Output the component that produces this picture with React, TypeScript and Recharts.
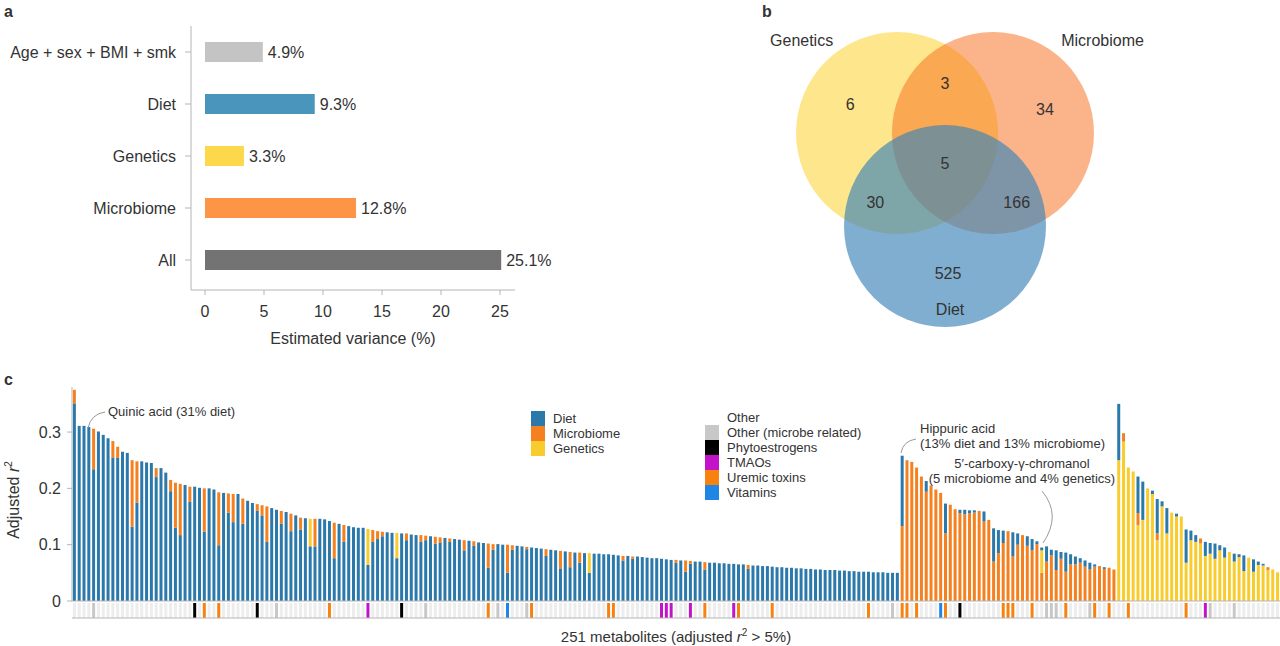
import { Bar, BarChart, Cell, LabelList, Scatter, ScatterChart, XAxis, YAxis, ZAxis } from 'recharts'

const font = '"Liberation Sans", Arial, Helvetica, sans-serif'
const ink = '#333333'
const rule = '#b5b5b5'

// ---- a: variance explained
const factors = ['Age + sex + BMI + smk', 'Diet', 'Genetics', 'Microbiome', 'All']
const variance = [4.9, 9.3, 3.3, 12.8, 25.1]
const factorColors = ['#c4c4c4', '#4a95bc', '#fcd84a', '#fd9446', '#737373']
const varianceTicks = [0, 5, 10, 15, 20, 25]

// ---- b: overlap of associated metabolites
const vennSets = ['Genetics', 'Microbiome', 'Diet']
const vennRegions = ['G', 'GM', 'M', 'GMD', 'GD', 'MD', 'D']
const vennCounts = [6, 3, 34, 5, 30, 166, 525]

// ---- c: adjusted r2 per metabolite, grouped by main contributor (rank 1..251)
const dietLedTotal = [
  0.375, 0.311, 0.311, 0.309, 0.306, 0.301, 0.295, 0.289, 0.284, 0.274,
  0.265, 0.263, 0.25, 0.248, 0.248, 0.246, 0.245, 0.236, 0.236, 0.228,
  0.215, 0.21, 0.208, 0.206, 0.203, 0.203, 0.201, 0.2, 0.2, 0.198,
  0.193, 0.192, 0.191, 0.19, 0.19, 0.182, 0.178, 0.174, 0.172, 0.17,
  0.168, 0.165, 0.162, 0.16, 0.158, 0.155, 0.152, 0.148, 0.147, 0.146,
  0.146, 0.146, 0.145, 0.142, 0.139, 0.137, 0.135, 0.133, 0.131, 0.13,
  0.13, 0.128, 0.126, 0.124, 0.123, 0.122, 0.121, 0.121, 0.12, 0.12,
  0.118, 0.117, 0.117, 0.116, 0.115, 0.114, 0.113, 0.112, 0.111, 0.11,
  0.109, 0.108, 0.107, 0.106, 0.104, 0.103, 0.102, 0.101, 0.101, 0.1,
  0.1, 0.099, 0.098, 0.097, 0.096, 0.095, 0.094, 0.093, 0.092, 0.091,
  0.09, 0.089, 0.088, 0.087, 0.086, 0.086, 0.085, 0.085, 0.084, 0.084,
  0.083, 0.083, 0.082, 0.081, 0.08, 0.08, 0.079, 0.079, 0.078, 0.077,
  0.076, 0.076, 0.075, 0.074, 0.073, 0.073, 0.072, 0.072, 0.071, 0.07,
  0.07, 0.069, 0.068, 0.068, 0.067, 0.067, 0.066, 0.066, 0.065, 0.065,
  0.064, 0.063, 0.063, 0.062, 0.062, 0.061, 0.06, 0.06, 0.059, 0.059,
  0.058, 0.058, 0.057, 0.057, 0.056, 0.056, 0.055, 0.055, 0.055, 0.054,
  0.054, 0.053, 0.053, 0.052, 0.052, 0.052, 0.051, 0.051, 0.051, 0.05,
  0.05, 0.05,
]
const microbeLedTotal = [
  0.258, 0.25, 0.247, 0.237, 0.221, 0.213, 0.205, 0.198, 0.192, 0.173,
  0.171, 0.163, 0.162, 0.162, 0.161, 0.161, 0.16, 0.159, 0.144, 0.129,
  0.126, 0.125, 0.124, 0.122, 0.12, 0.117, 0.115, 0.11, 0.106, 0.095,
  0.097, 0.091, 0.09, 0.087, 0.086, 0.083, 0.079, 0.076, 0.072, 0.068,
  0.065, 0.062, 0.06, 0.059, 0.056,
]
const geneticsLedTotal = [
  0.35, 0.298, 0.237, 0.23, 0.221, 0.212, 0.2, 0.196, 0.181, 0.177,
  0.165, 0.157, 0.155, 0.15, 0.127, 0.125, 0.117, 0.111, 0.105, 0.103,
  0.102, 0.099, 0.095, 0.087, 0.084, 0.083, 0.081, 0.077, 0.074, 0.07,
  0.066, 0.06, 0.056, 0.051,
]

// secondary contributions as [rank, adjusted r2]
const dietLedMicrobiome = [
  [1, 0.024], [5, 0.072], [9, 0.029], [10, 0.02], [13, 0.118], [14, 0.073], [18, 0.016],
  [21, 0.02], [22, 0.08], [23, 0.091], [25, 0.027], [28, 0.077], [31, 0.094], [33, 0.034],
  [34, 0.05], [36, 0.045], [39, 0.012], [40, 0.018], [41, 0.063], [44, 0.023], [46, 0.031],
  [48, 0.021], [51, 0.049], [55, 0.063], [57, 0.03], [63, 0.021], [64, 0.014], [65, 0.008],
  [70, 0.012], [73, 0.012], [74, 0.008], [76, 0.012], [77, 0.01], [79, 0.006], [82, 0.018],
  [84, 0.008], [87, 0.043], [88, 0.01], [91, 0.05], [92, 0.008], [95, 0.004], [99, 0.012],
  [102, 0.031], [104, 0.027], [106, 0.018], [115, 0.008], [117, 0.004], [126, 0.005],
  [128, 0.02], [129, 0.005], [132, 0.013], [141, 0.007],
]
const dietLedGenetics = [[50, 0.049], [62, 0.064], [68, 0.045], [108, 0.035]]
const microbeLedDiet = [
  [173, 0.125], [178, 0.019], [182, 0.053], [185, 0.006], [186, 0.008], [187, 0.005],
  [188, 0.004], [190, 0.018], [192, 0.059], [193, 0.041], [194, 0.022], [196, 0.043],
  [197, 0.02], [199, 0.017], [200, 0.02], [201, 0.005], [202, 0.005], [203, 0.027],
  [204, 0.01], [205, 0.035], [206, 0.012], [207, 0.034], [208, 0.018], [209, 0.014],
  [210, 0.008], [211, 0.011], [212, 0.012], [213, 0.004], [215, 0.003],
]
const microbeLedGenetics = [[202, 0.04]]
const geneticsLedDiet = [
  [218, 0.1], [222, 0.065], [223, 0.068], [225, 0.006], [226, 0.061], [227, 0.009],
  [228, 0.045], [230, 0.005], [232, 0.059], [233, 0.017], [234, 0.012], [236, 0.025],
  [237, 0.019], [238, 0.027], [239, 0.009], [240, 0.018], [242, 0.014], [243, 0.005],
  [244, 0.028], [246, 0.022], [247, 0.006], [248, 0.003],
]
const geneticsLedMicrobiome = [[219, 0.015], [222, 0.021], [226, 0.012], [235, 0.009], [249, 0.005]]
const rTicks = [0, 0.1, 0.2, 0.3]

// metabolite classes (strip under panel c), by rank
const microbeRelatedOther = [5, 43, 74, 89, 95, 171, 203, 204, 205, 212, 237, 242]
const phytoestrogens = [26, 39, 69, 185]
const tmaos = [62, 123, 124, 125, 129, 138, 236]
const uremicToxins = [28, 31, 54, 87, 96, 112, 113, 132, 139, 146, 166, 173, 174, 176, 182, 194, 195, 196, 200, 207, 213, 216, 220, 232]
const vitamins = [91, 181]

// ---- colours and layout
const C = { diet: '#2b78ab', microbiome: '#f5801f', genetics: '#f8cc2d' }
const sourceLegend = [
  { name: 'Diet', color: C.diet },
  { name: 'Microbiome', color: C.microbiome },
  { name: 'Genetics', color: C.genetics },
]
const classes = [
  { name: 'Other', color: '#ededed', box: 'transparent', ranks: [] as number[] },
  { name: 'Other (microbe related)', color: '#c8c8c8', box: '#c8c8c8', ranks: microbeRelatedOther },
  { name: 'Phytoestrogens', color: '#000000', box: '#000000', ranks: phytoestrogens },
  { name: 'TMAOs', color: '#c313c9', box: '#c313c9', ranks: tmaos },
  { name: 'Uremic toxins', color: '#f7820f', box: '#f7820f', ranks: uremicToxins },
  { name: 'Vitamins', color: '#1f86e6', box: '#1f86e6', ranks: vitamins },
]
const vennStyle: Record<string, { fill: string; opacity: number }> = {
  Genetics: { fill: '#fbcd19', opacity: 0.5 },
  Microbiome: { fill: '#f76915', opacity: 0.5 },
  Diet: { fill: '#3b83b7', opacity: 0.65 },
}
// circle centres (radius = 1) and label spots for the venn
const vennCentre: Record<string, [number, number]> = {
  Genetics: [-0.475, 0.46],
  Microbiome: [0.475, 0.46],
  Diet: [0, -0.46],
}
const vennNameSpot: Record<string, [number, number]> = {
  Genetics: [-1.42, 1.38],
  Microbiome: [1.56, 1.38],
  Diet: [0.05, -1.29],
}
const vennCountSpot: Record<string, [number, number]> = {
  G: [-0.94, 0.74], GM: [0, 0.95], M: [0.99, 0.69], GMD: [0, 0.16],
  GD: [-0.69, -0.23], MD: [0.71, -0.23], D: [0.03, -0.93],
}

const factorRows = factors.map((name, i) => ({ name, value: variance[i], color: factorColors[i] }))

const vennCircles = vennSets.map((name) => ({ name, x: vennCentre[name][0], y: vennCentre[name][1], z: 1 }))
const vennLabels = [
  ...vennSets.map((name) => ({ label: name, x: vennNameSpot[name][0], y: vennNameSpot[name][1], z: 1 })),
  ...vennRegions.map((r, i) => ({ label: String(vennCounts[i]), x: vennCountSpot[r][0], y: vennCountSpot[r][1], z: 1 })),
]

const lookup = (pairs: number[][]) => {
  const m = new Map(pairs.map(([k, v]) => [k, v]))
  return (rank: number) => m.get(rank) ?? 0
}

type Row = { rank: number; bottom: number; middle: number; top: number; colors: string[] }
const rows: Row[] = []
{
  const m = lookup(dietLedMicrobiome)
  const g = lookup(dietLedGenetics)
  dietLedTotal.forEach((t) => {
    const rank = rows.length + 1
    rows.push({ rank, bottom: t - m(rank) - g(rank), middle: m(rank), top: g(rank), colors: [C.diet, C.microbiome, C.genetics] })
  })
}
{
  const d = lookup(microbeLedDiet)
  const g = lookup(microbeLedGenetics)
  microbeLedTotal.forEach((t) => {
    const rank = rows.length + 1
    rows.push({ rank, bottom: t - d(rank) - g(rank), middle: g(rank), top: d(rank), colors: [C.microbiome, C.genetics, C.diet] })
  })
}
{
  const d = lookup(geneticsLedDiet)
  const m = lookup(geneticsLedMicrobiome)
  geneticsLedTotal.forEach((t) => {
    const rank = rows.length + 1
    rows.push({ rank, bottom: t - d(rank) - m(rank), middle: m(rank), top: d(rank), colors: [C.genetics, C.microbiome, C.diet] })
  })
}

const stripRows = rows.map((r) => {
  const cls = classes.find((c) => c.ranks.includes(r.rank)) ?? classes[0]
  return { rank: r.rank, v: 1, color: cls.color }
})

const tickA = { fontSize: 16, fill: ink, fontFamily: font }
const tickC = { fontSize: 16, fill: ink, fontFamily: font }

function VennCircle(p: any) {
  const s = vennStyle[p.payload.name]
  const r = p.width ? p.width / 2 : 101
  return <circle cx={p.cx} cy={p.cy} r={r} fill={s.fill} fillOpacity={s.opacity} />
}

function VennText(p: any) {
  return (
    <text x={p.cx} y={p.cy} textAnchor="middle" dominantBaseline="central" fontSize={16} fill={ink} fontFamily={font}>
      {p.payload.label}
    </text>
  )
}

const panelLetter = (l: string, x: number, y: number) => (
  <div style={{ position: 'absolute', left: x, top: y, fontWeight: 'bold', fontSize: 16, lineHeight: '16px' }}>{l}</div>
)

export default function App() {
  return (
    <div style={{ position: 'absolute', left: 0, top: 0, width: 1280, height: 646, background: '#fff', fontFamily: font, color: ink, overflow: 'hidden' }}>
      {panelLetter('a', 4, 4)}
      {panelLetter('b', 762, 4)}
      {panelLetter('c', 4, 372)}

      {/* a */}
      <div style={{ position: 'absolute', left: 0, top: 0 }}>
        <BarChart width={570} height={350} layout="vertical" data={factorRows} margin={{ top: 26, right: 55, left: 0, bottom: 0 }}>
          <YAxis
            type="category"
            dataKey="name"
            width={191}
            tickSize={6}
            tickMargin={9}
            padding={{ top: 0, bottom: 4 }}
            tick={tickA}
            interval={0}
            axisLine={{ stroke: rule }}
            tickLine={{ stroke: rule }}
          />
          <XAxis
            type="number"
            domain={[0, 26.27]}
            ticks={varianceTicks}
            interval={0}
            allowDataOverflow
            padding={{ left: 14, right: 0 }}
            height={60}
            tickSize={5}
            tickMargin={11}
            tick={tickA}
            axisLine={{ stroke: rule }}
            tickLine={{ stroke: rule }}
            label={{ value: 'Estimated variance (%)', position: 'insideBottom', offset: 6, fontSize: 16, fill: ink }}
          />
          <Bar dataKey="value" barSize={20} isAnimationActive={false}>
            {factorRows.map((r) => (
              <Cell key={r.name} fill={r.color} />
            ))}
            <LabelList dataKey="value" position="right" offset={5} formatter={(v: any) => `${v}%`} fill={ink} fontSize={16} />
          </Bar>
        </BarChart>
      </div>

      {/* b */}
      <div style={{ position: 'absolute', left: 760, top: 0 }}>
        <ScatterChart width={430} height={350} margin={{ top: 0, right: 0, bottom: 0, left: 0 }}>
          <XAxis type="number" dataKey="x" domain={[-1.832, 2.426]} allowDataOverflow hide />
          <YAxis type="number" dataKey="y" domain={[-1.688, 1.777]} allowDataOverflow hide />
          <ZAxis type="number" dataKey="z" range={[32047, 32047]} />
          <Scatter data={vennCircles} shape={VennCircle} isAnimationActive={false} />
          <Scatter data={vennLabels} shape={VennText} isAnimationActive={false} />
        </ScatterChart>
      </div>

      {/* c */}
      <div style={{ position: 'absolute', left: 0, top: 380 }}>
        <BarChart width={1280} height={240} data={rows} barCategoryGap="18%" margin={{ top: 7, right: 0, left: 0, bottom: 18 }}>
          <XAxis dataKey="rank" tick={false} tickLine={false} height={1} axisLine={{ stroke: rule }} />
          <YAxis
            type="number"
            domain={[0, 0.38]}
            ticks={rTicks}
            interval={0}
            allowDataOverflow
            width={72}
            tickSize={5}
            tickMargin={6}
            tick={tickC}
            axisLine={{ stroke: rule }}
            tickLine={{ stroke: rule }}
          />
          <Bar dataKey="bottom" stackId="r" isAnimationActive={false}>
            {rows.map((r) => (
              <Cell key={r.rank} fill={r.colors[0]} />
            ))}
          </Bar>
          <Bar dataKey="middle" stackId="r" isAnimationActive={false}>
            {rows.map((r) => (
              <Cell key={r.rank} fill={r.colors[1]} />
            ))}
          </Bar>
          <Bar dataKey="top" stackId="r" isAnimationActive={false}>
            {rows.map((r) => (
              <Cell key={r.rank} fill={r.colors[2]} />
            ))}
          </Bar>
        </BarChart>
      </div>
      <div style={{ position: 'absolute', left: 0, top: 602 }}>
        <BarChart width={1280} height={17} data={stripRows} barCategoryGap="18%" margin={{ top: 1, right: 0, left: 72, bottom: 0 }}>
          <XAxis dataKey="rank" tick={false} tickLine={false} height={1} axisLine={{ stroke: rule }} />
          <YAxis type="number" domain={[0, 1]} hide />
          <Bar dataKey="v" isAnimationActive={false}>
            {stripRows.map((r) => (
              <Cell key={r.rank} fill={r.color} />
            ))}
          </Bar>
        </BarChart>
      </div>

      {/* axis titles of c */}
      <div style={{ position: 'absolute', left: 13, top: 500, transform: 'translate(-50%, -50%) rotate(-90deg)', fontSize: 16, whiteSpace: 'nowrap' }}>
        Adjusted <i>r</i>
        <sup style={{ fontSize: 10 }}>2</sup>
      </div>
      <div style={{ position: 'absolute', left: 676, top: 636, transform: 'translate(-50%, -50%)', fontSize: 15, whiteSpace: 'nowrap' }}>
        251 metabolites (adjusted <i>r</i>
        <sup style={{ fontSize: 10 }}>2</sup> &gt; 5%)
      </div>

      {/* legends of c */}
      <div style={{ position: 'absolute', left: 531, top: 411, fontSize: 13 }}>
        {sourceLegend.map((s) => (
          <div key={s.name} style={{ display: 'flex', alignItems: 'center', height: 15 }}>
            <div style={{ width: 14, height: 15, background: s.color }} />
            <span style={{ marginLeft: 8 }}>{s.name}</span>
          </div>
        ))}
      </div>
      <div style={{ position: 'absolute', left: 705, top: 410, fontSize: 13 }}>
        {classes.map((s) => (
          <div key={s.name} style={{ display: 'flex', alignItems: 'center', height: 15 }}>
            <div style={{ width: 14, height: 15, background: s.box }} />
            <span style={{ marginLeft: 8 }}>{s.name}</span>
          </div>
        ))}
      </div>

      {/* annotations of c */}
      <svg width={1280} height={646} style={{ position: 'absolute', left: 0, top: 0, pointerEvents: 'none' }}>
        <g fill="none" stroke="#9a9a9a" strokeWidth={1}>
          <path d="M88 428 Q 91 414 105 412" />
          <path d="M901 453 Q 903 441 916 439" />
          <path d="M1042 491 Q 1062 515 1043 543" />
        </g>
        <g fontSize={13} fill={ink} fontFamily={font}>
          <text x={108} y={416}>Quinic acid (31% diet)</text>
          <text x={920} y={433}>Hippuric acid</text>
          <text x={920} y={448}>(13% diet and 13% microbiome)</text>
          <text x={1022} y={468} textAnchor="middle">5′-carboxy-γ-chromanol</text>
          <text x={1022} y={483} textAnchor="middle">(5 microbiome and 4% genetics)</text>
        </g>
      </svg>
    </div>
  )
}
